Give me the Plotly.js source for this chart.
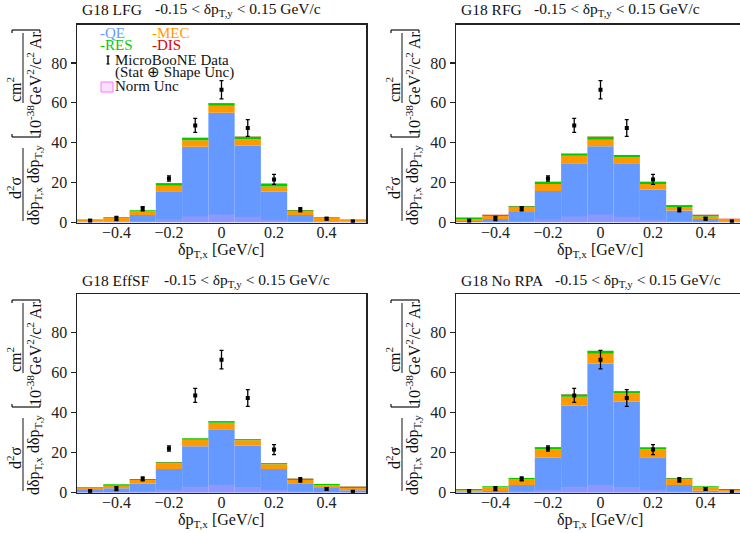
<!DOCTYPE html>
<html>
<head>
<meta charset="utf-8">
<script src="https://cdn.plot.ly/plotly-3.0.1.min.js"></script>
<style>html,body{margin:0;padding:0;background:#fff;}#chart{width:740px;height:533px;}</style>
</head>
<body>
<div id="chart"></div>
<script>
// ---------- data ----------
const binCenters = [-0.5, -0.4, -0.3, -0.2, -0.1, 0.0, 0.1, 0.2, 0.3, 0.4, 0.5];
const xTickVals = [-0.4, -0.2, 0, 0.2, 0.4];
const xTickText = ['\u22120.4', '\u22120.2', '0', '0.2', '0.4'];
const yTickVals = [0, 20, 40, 60, 80];

const dataVals = [0.9, 2.0, 6.9, 22.1, 48.7, 66.6, 47.4, 21.6, 6.4, 1.9, 0.5];
const dataErr  = [0.6, 1.0, 1.0, 1.3, 3.5, 4.6, 4.2, 2.5, 1.1, 0.6, 0.5];
const normUnc  = [0.4, 0.5, 0.7, 1.5, 3.0, 4.0, 2.9, 1.4, 0.7, 0.4, 0.3];

const modelNames = ['G18 LFG', 'G18 RFG', 'G18 EffSF', 'G18 No RPA'];

const lfgQE  = [0.4, 0.6, 3.7, 15.7, 38.0, 55.1, 38.5, 15.4, 3.7, 0.6, 0.4];
const lfgMEC = [0.8, 1.6, 1.8, 2.7, 3.2, 3.4, 3.2, 2.7, 1.8, 1.6, 0.8];
const lfgRES = [0.3, 0.4, 0.6, 1.3, 1.2, 1.3, 1.3, 1.3, 0.7, 0.4, 0.3];
const lfgDIS = [0.05, 0.05, 0.1, 0.1, 0.1, 0.1, 0.1, 0.1, 0.1, 0.05, 0.05];

const rfgQE  = [0.8, 1.8, 5.3, 15.8, 29.7, 38.3, 29.7, 16.5, 6.0, 1.8, 0.6];
const rfgMEC = [1.0, 1.4, 2.2, 3.5, 3.8, 3.2, 3.1, 2.8, 1.8, 1.2, 0.9];
const rfgRES = [0.6, 0.6, 0.7, 1.0, 1.0, 1.5, 1.0, 1.0, 0.9, 0.8, 0.3];
const rfgDIS = [0.05, 0.05, 0.1, 0.1, 0.1, 0.1, 0.1, 0.1, 0.1, 0.05, 0.05];

const sfQE  = [1.3, 2.2, 4.5, 11.8, 23.3, 31.8, 23.5, 11.8, 4.7, 2.3, 1.2];
const sfMEC = [1.0, 1.3, 1.8, 2.9, 3.2, 3.2, 2.7, 2.4, 1.6, 1.4, 1.1];
const sfRES = [0.4, 0.7, 0.5, 0.6, 0.7, 0.8, 0.6, 0.6, 0.7, 0.6, 0.7];
const sfDIS = [0.05, 0.05, 0.1, 0.1, 0.1, 0.1, 0.1, 0.1, 0.1, 0.05, 0.05];

const nrQE  = [0.5, 0.8, 3.8, 17.5, 43.5, 64.7, 45.5, 17.8, 3.8, 1.0, 0.5];
const nrMEC = [0.7, 1.9, 3.0, 4.3, 4.5, 4.8, 4.3, 3.9, 2.9, 1.7, 0.8];
const nrRES = [0.6, 0.5, 0.5, 1.0, 1.2, 1.5, 1.0, 1.0, 0.5, 0.5, 0.5];
const nrDIS = [0.05, 0.05, 0.1, 0.1, 0.1, 0.1, 0.1, 0.1, 0.1, 0.05, 0.05];

const models = [
  [lfgQE, lfgMEC, lfgRES, lfgDIS],
  [rfgQE, rfgMEC, rfgRES, rfgDIS],
  [sfQE, sfMEC, sfRES, sfDIS],
  [nrQE, nrMEC, nrRES, nrDIS]
];
const compNames = ['QE', 'MEC', 'RES', 'DIS'];
const compColors = ['#6699ff', '#ff9900', '#00cc00', '#dd0000'];

// ---------- geometry helpers ----------
const W = 740, H = 533;
const px = x => x / W;
const py = y => 1 - y / H;
const FONT = '"Liberation Serif", "Times New Roman", serif';
const panelDX = [0, 379, 0, 379];
const panelDY = [0, 0, 270, 270];

const traces = [];
for (let p = 0; p < 4; p++) {
  const xa = p === 0 ? 'x' : 'x' + (p + 1);
  const ya = p === 0 ? 'y' : 'y' + (p + 1);
  const comps = models[p];
  let base = binCenters.map(() => 0);
  for (let c = 0; c < 4; c++) {
    traces.push({
      type: 'bar', x: binCenters, y: comps[c], base: base.slice(), width: 0.1,
      marker: {color: compColors[c], line: {width: 0}},
      xaxis: xa, yaxis: ya, showlegend: false, hoverinfo: 'skip'
    });
    base = base.map((b, i) => b + comps[c][i]);
  }
  traces.push({
    type: 'bar', x: binCenters, y: normUnc, base: 0, width: 0.1,
    marker: {color: 'rgba(240,150,255,0.28)', line: {width: 0}},
    xaxis: xa, yaxis: ya, showlegend: false, hoverinfo: 'skip'
  });
  traces.push({
    type: 'scatter', mode: 'markers', x: binCenters, y: dataVals,
    error_y: {type: 'data', array: dataErr, visible: true, color: '#000', thickness: 1.3, width: 2},
    marker: {color: '#000', size: 4, symbol: 'square'},
    xaxis: xa, yaxis: ya, showlegend: false
  });
}

const layout = {
  width: W, height: H,
  margin: {l: 0, r: 0, t: 0, b: 0},
  paper_bgcolor: '#fff', plot_bgcolor: '#fff',
  barmode: 'overlay', showlegend: false,
  font: {family: FONT, size: 15, color: '#111'},
  annotations: [], shapes: []
};

const xDomL = [px(77), px(366)], xDomR = [px(456), 1];
const yDomT = [py(222.5), py(24.5)], yDomB = [py(492.7), py(294.3)];
for (let p = 0; p < 4; p++) {
  const suffix = p === 0 ? '' : String(p + 1);
  const right = (p % 2) === 1;
  const bottom = p >= 2;
  layout['xaxis' + suffix] = {
    domain: right ? xDomR : xDomL,
    range: right ? [-0.55, 0.531] : [-0.55, 0.55],
    anchor: 'y' + suffix,
    tickvals: xTickVals, ticktext: xTickText, ticks: '',
    ticklabelstandoff: -5,
    showgrid: false, zeroline: false,
    showline: true, mirror: true, linecolor: '#222', linewidth: 1.5,
    tickfont: {family: FONT, size: 16, color: '#222'}, fixedrange: true
  };
  layout['yaxis' + suffix] = {
    domain: bottom ? yDomB : yDomT,
    range: [0, 99.3],
    anchor: 'x' + suffix,
    tickvals: yTickVals, ticks: 'outside', ticklen: 5, tickwidth: 1.2, tickcolor: '#222',
    showgrid: false, zeroline: false,
    showline: true, mirror: !right, linecolor: '#222', linewidth: 1.5,
    tickfont: {family: FONT, size: 16, color: '#222'}, fixedrange: true
  };
}

function ann(x, y, text, opts) {
  layout.annotations.push(Object.assign({
    xref: 'paper', yref: 'paper', x: px(x), y: py(y), text: text,
    showarrow: false, xanchor: 'left', yanchor: 'middle', borderpad: 0,
    font: {family: FONT, size: 15, color: '#111'}
  }, opts || {}));
}
function line(x0, y0, x1, y1, w, col) {
  layout.shapes.push({type: 'line', xref: 'paper', yref: 'paper',
    x0: px(x0), y0: py(y0), x1: px(x1), y1: py(y1),
    line: {color: col || '#111', width: w || 1}});
}

const titleOffsets = [73, 73, 82, 94];
const TF = {family: FONT, size: 15.5, color: '#111'};
for (let p = 0; p < 4; p++) {
  const dx = panelDX[p], dy = panelDY[p];
  const right = (p % 2) === 1;
  // panel title
  ann(81 + dx, 10 + dy, modelNames[p], {font: TF});
  ann(81 + dx + titleOffsets[p], 10 + dy, '-0.15 &lt; \u03b4p<sub>T,y</sub> &lt; 0.15 GeV/c', {font: TF});
  // x title
  ann((right ? 600 : 221), 250 + dy, '\u03b4p<sub>T,x</sub> [GeV/c]', {xanchor: 'center', font: {family: FONT, size: 16, color: '#111'}});
  // y title (rotated fraction)
  const rot = {textangle: -90, xanchor: 'center', yanchor: 'middle', font: {family: FONT, size: 16, color: '#111'}};
  ann(14 + dx, 188 + dy, 'd<sup>2</sup>\u03c3', rot);
  line(23 + dx, 148 + dy, 23 + dx, 221 + dy, 1);
  ann(34 + dx, 185 + dy, 'd\u03b4p<sub>T,x</sub> d\u03b4p<sub>T,y</sub>', rot);
  ann(34 + dx, 121 + dy, '10<sup>-38</sup>', rot);
  ann(14 + dx, 90 + dy, 'cm<sup>2</sup>', rot);
  line(23 + dx, 33 + dy, 23 + dx, 103 + dy, 1);
  ann(34 + dx, 68 + dy, 'GeV<sup>2</sup>/c<sup>2</sup> Ar', rot);
  // brackets
  line(12 + dx, 137 + dy, 40 + dx, 137 + dy, 1.2);
  line(12 + dx, 137 + dy, 12 + dx, 134 + dy, 1.2);
  line(40 + dx, 137 + dy, 40 + dx, 134 + dy, 1.2);
  line(12 + dx, 30 + dy, 40 + dx, 30 + dy, 1.2);
  line(12 + dx, 30 + dy, 12 + dx, 33 + dy, 1.2);
  line(40 + dx, 30 + dy, 40 + dx, 33 + dy, 1.2);
}

// legend (top-left panel)
const LF = 15;
ann(99, 33, '-' + compNames[0], {font: {family: FONT, size: LF, color: compColors[0]}});
ann(151, 33, '-' + compNames[1], {font: {family: FONT, size: LF, color: compColors[1]}});
ann(99, 45, '-' + compNames[2], {font: {family: FONT, size: LF, color: compColors[2]}});
ann(151, 45, '-' + compNames[3], {font: {family: FONT, size: LF, color: compColors[3]}});
line(108, 56, 108, 64, 1.4, '#000');
line(106.5, 56, 109.5, 56, 1.2, '#000');
line(106.5, 64, 109.5, 64, 1.2, '#000');
layout.shapes.push({type: 'rect', xref: 'paper', yref: 'paper',
  x0: px(101), x1: px(113), y0: py(92), y1: py(82),
  fillcolor: 'rgba(240,150,255,0.3)', line: {color: '#ff77ff', width: 1}});
ann(114, 60, 'MicroBooNE Data', {font: {family: FONT, size: LF, color: '#111'}});
ann(114, 73, '(Stat \u2295 Shape Unc)', {font: {family: FONT, size: LF, color: '#111'}});
ann(114, 86, 'Norm Unc', {font: {family: FONT, size: LF, color: '#111'}});

Plotly.newPlot('chart', traces, layout, {displayModeBar: false, staticPlot: true});
</script>
</body>
</html>
